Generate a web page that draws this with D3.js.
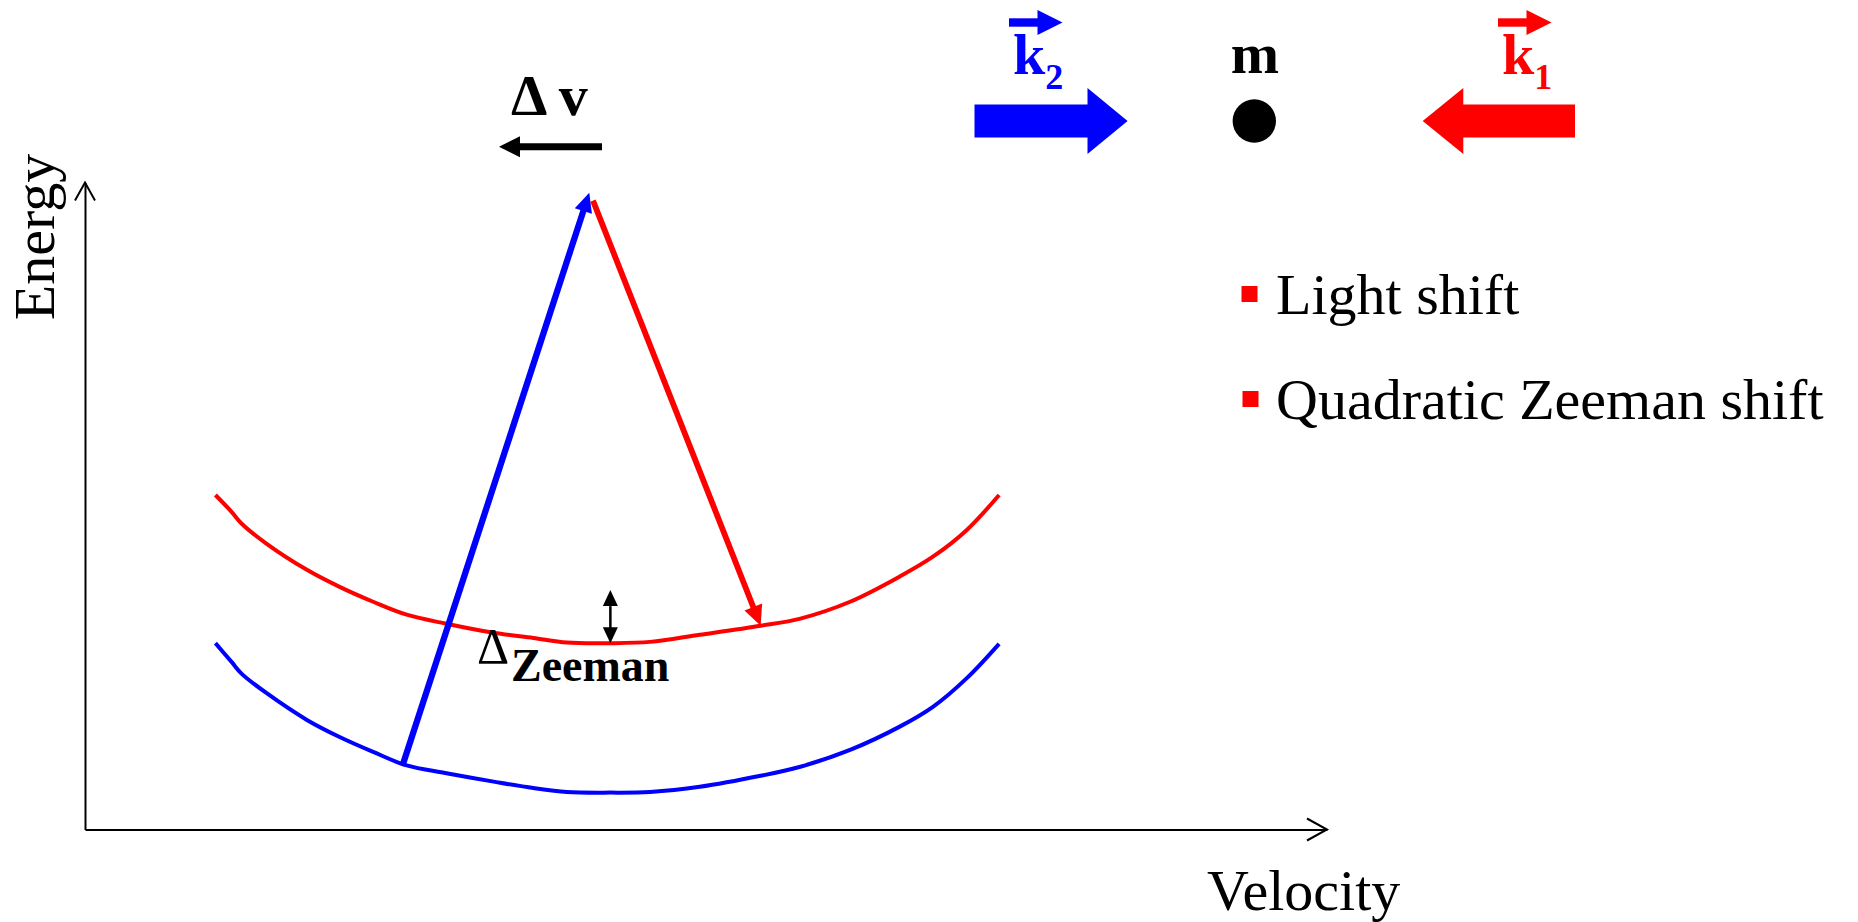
<!DOCTYPE html>
<html lang="en">
<head>
  <meta charset="utf-8">
  <title>Raman transition: Energy vs. Velocity</title>
  <script src="https://d3js.org/d3.v7.min.js"></script>
  <style>
    body {
      margin: 0;
      background: #fff;
    }
    text {
      font-family: 'Liberation Serif', 'Times New Roman', serif;
    }
    .axis path {
      stroke: #000;
      stroke-width: 2px;
    }
    .bold {
      font-weight: bold;
    }
  </style>
</head>
<body>
  <div id="chart"></div>

  <script>

    // velocity positions (arbitrary units, axis runs 0..100)
    var velocity = [10.5, 11.8, 12.6, 14.6, 17.9, 20.5, 23.2, 25.9, 29.1, 32.9, 36.1,
                    38.8, 42.3, 45.5, 49.5, 54.4, 57.6, 61.6, 65.6, 68.3, 71.0, 73.6];

    // upper (red) and lower (blue) energy levels, same units (axis runs 0..100)
    var upperEnergy = [51.7, 49.1, 47.3, 44.2, 40.1, 37.5, 35.2, 33.2, 31.8, 30.4, 29.6,
                       28.9, 28.8, 29.0, 30.1, 31.5, 32.6, 35.2, 39.1, 42.2, 46.3, 51.7];
    var lowerEnergy = [28.8, 25.9, 24.1, 21.1, 16.9, 14.3, 12.0, 9.9, 8.7, 7.4, 6.4,
                       5.8, 5.7, 5.8, 6.6, 8.3, 9.7, 12.3, 15.9, 19.0, 23.4, 28.7];

    // transitions: [velocity, energy] start -> end
    var absorption = [[25.6, 10.1], [40.6, 98.4]];
    var emission = [[40.9, 97.2], [54.4, 31.5]];
    var zeemanGap = [[42.3, 37.0], [42.3, 28.8]];

    var legendItems = ['Light shift', 'Quadratic Zeeman shift'];

    var width = 1858, height = 922;

    var svg = d3.select('#chart')
                .append('svg')
                .attr('width', width)
                .attr('height', height);

    var x = d3.scaleLinear().domain([0, 100]).range([85, 1327]);
    var y = d3.scaleLinear().domain([0, 100]).range([829.5, 182.5]);

    // axes without ticks, just the domain lines
    svg.append('g')
       .attr('class', 'axis')
       .attr('transform', 'translate(0,' + y(0) + ')')
       .call(d3.axisBottom(x).ticks(0).tickSizeOuter(0));

    svg.append('g')
       .attr('class', 'axis')
       .attr('transform', 'translate(' + x(0) + ',0)')
       .call(d3.axisLeft(y).ticks(0).tickSizeOuter(0));

    // open arrowheads at the axis ends
    svg.append('path')
       .attr('d', 'M' + (x(0) - 10) + ',' + (y(100) + 18) + 'L' + x(0) + ',' + y(100) + 'L' + (x(0) + 10) + ',' + (y(100) + 18))
       .attr('fill', 'none')
       .attr('stroke', '#000')
       .attr('stroke-width', 2);

    svg.append('path')
       .attr('d', 'M' + (x(100) - 20) + ',' + (y(0) - 11) + 'L' + x(100) + ',' + y(0) + 'L' + (x(100) - 20) + ',' + (y(0) + 11))
       .attr('fill', 'none')
       .attr('stroke', '#000')
       .attr('stroke-width', 2);

    svg.append('text')
       .attr('transform', 'translate(54,237) rotate(-90)')
       .attr('text-anchor', 'middle')
       .attr('font-size', 58)
       .text('Energy');

    svg.append('text')
       .attr('x', 1207)
       .attr('y', 910)
       .attr('font-size', 58)
       .text('Velocity');

    // energy curves
    var line = d3.line()
                 .x(function(d) { return x(d[0]); })
                 .y(function(d) { return y(d[1]); })
                 .curve(d3.curveCatmullRom);

    svg.append('path')
       .datum(velocity.map(function(v, i) { return [v, upperEnergy[i]]; }))
       .attr('d', line)
       .attr('fill', 'none')
       .attr('stroke', '#ff0000')
       .attr('stroke-width', 4);

    svg.append('path')
       .datum(velocity.map(function(v, i) { return [v, lowerEnergy[i]]; }))
       .attr('d', line)
       .attr('fill', 'none')
       .attr('stroke', '#0000ff')
       .attr('stroke-width', 4);

    // straight arrow with a filled triangular head, in pixels
    var drawArrow = function(x1, y1, x2, y2, color, lineWidth, headLen, headW, both) {
      var dx = x2 - x1, dy = y2 - y1;
      var len = Math.sqrt(dx * dx + dy * dy);
      var ux = dx / len, uy = dy / len;
      var px = -uy, py = ux;
      var sx = both ? x1 + ux * headLen : x1;
      var sy = both ? y1 + uy * headLen : y1;

      svg.append('line')
         .attr('x1', sx).attr('y1', sy)
         .attr('x2', x2 - ux * headLen * 0.9).attr('y2', y2 - uy * headLen * 0.9)
         .attr('stroke', color)
         .attr('stroke-width', lineWidth);

      var head = function(tx, ty, dirx, diry) {
        var bx = tx - dirx * headLen, by = ty - diry * headLen;
        svg.append('path')
           .attr('d', 'M' + tx + ',' + ty +
                      'L' + (bx + px * headW / 2) + ',' + (by + py * headW / 2) +
                      'L' + (bx - px * headW / 2) + ',' + (by - py * headW / 2) + 'Z')
           .attr('fill', color);
      };

      head(x2, y2, ux, uy);
      if (both) head(x1, y1, -ux, -uy);
    };

    drawArrow(x(absorption[0][0]), y(absorption[0][1]), x(absorption[1][0]), y(absorption[1][1]),
              '#0000ff', 6.3, 19, 18, false);
    drawArrow(x(emission[0][0]), y(emission[0][1]), x(emission[1][0]), y(emission[1][1]),
              '#ff0000', 5.8, 20, 19, false);
    drawArrow(x(zeemanGap[0][0]), y(zeemanGap[0][1]), x(zeemanGap[1][0]), y(zeemanGap[1][1]),
              '#000', 2.5, 16, 15, true);

    svg.append('text')
       .attr('x', 477)
       .attr('y', 663)
       .attr('font-size', 50)
       .text('\u0394');
    svg.append('text')
       .attr('class', 'bold')
       .attr('x', 511)
       .attr('y', 680.5)
       .attr('font-size', 46)
       .text('Zeeman');

    // top: velocity kick, laser beams and atom
    svg.append('text')
       .attr('class', 'bold')
       .attr('x', 511)
       .attr('y', 115)
       .attr('font-size', 58)
       .text('\u0394 v');

    drawArrow(602, 146.7, 499, 146.7, '#000', 7, 21, 21, false);

    // beam arrow (block shape)
    var blockArrow = function(tail, headBase, tip, cy, color) {
      var pts = [[tail, cy - 16.5], [headBase, cy - 16.5], [headBase, cy - 33], [tip, cy],
                 [headBase, cy + 33], [headBase, cy + 16.5], [tail, cy + 16.5]];
      svg.append('path')
         .attr('d', d3.line()(pts) + 'Z')
         .attr('fill', color);
    };

    blockArrow(974.5, 1087.5, 1127.6, 121, '#0000ff');
    blockArrow(1575, 1463.3, 1422.7, 121, '#ff0000');

    // wave vector labels with vector arrows
    var waveVector = function(xk, sub, color) {
      var t = svg.append('text')
                 .attr('class', 'bold')
                 .attr('x', xk)
                 .attr('y', 74)
                 .attr('font-size', 58)
                 .attr('fill', color);
      t.append('tspan').text('k');
      t.append('tspan')
       .attr('font-size', 36)
       .attr('dy', 15)
       .text(sub);
      drawArrow(xk - 4, 22.5, xk + 49.5, 22.5, color, 8.4, 25, 25, false);
    };

    waveVector(1013, '2', '#0000ff');
    waveVector(1502, '1', '#ff0000');

    svg.append('circle')
       .attr('cx', 1254.3)
       .attr('cy', 121)
       .attr('r', 21.7)
       .attr('fill', '#000');

    svg.append('text')
       .attr('class', 'bold')
       .attr('x', 1255)
       .attr('y', 72.7)
       .attr('text-anchor', 'middle')
       .attr('font-size', 58)
       .text('m');

    // legend
    var legend = svg.selectAll('.legend')
                    .data(legendItems)
                    .enter()
                    .append('g')
                    .attr('class', 'legend')
                    .attr('transform', function(d, i) { return 'translate(0,' + (i * 105) + ')'; });

    legend.append('rect')
          .attr('x', function(d, i) { return 1241.5 + i; })
          .attr('y', 286)
          .attr('width', 16)
          .attr('height', 16)
          .attr('fill', '#ff0000');

    legend.append('text')
          .attr('x', 1276)
          .attr('y', 313.5)
          .attr('font-size', 58)
          .text(function(d) { return d; });

  </script>
</body>
</html>
